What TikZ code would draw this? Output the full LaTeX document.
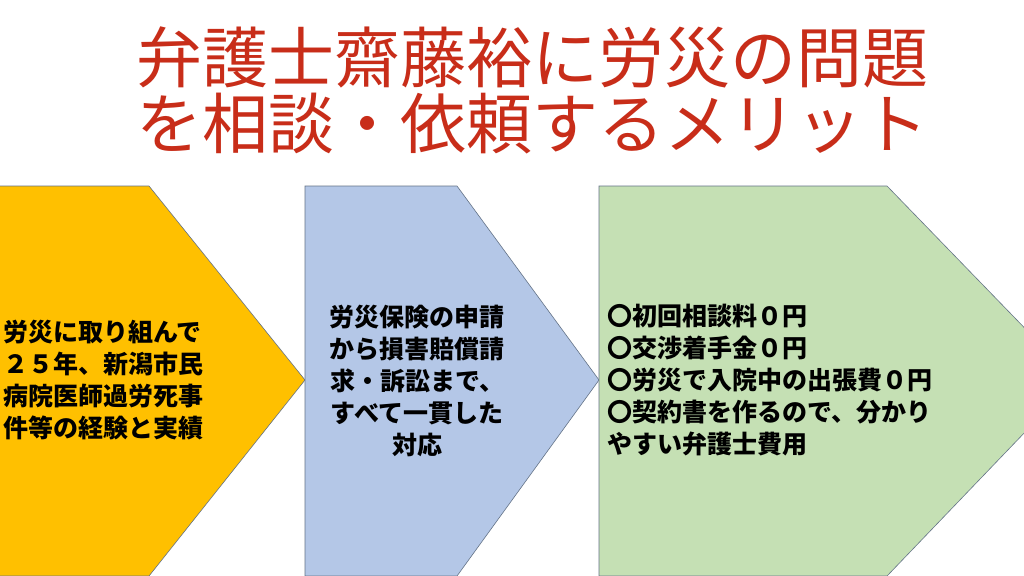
\documentclass[tikz,border=0pt]{standalone}
\usepackage{fontspec}
\setmainfont{Noto Sans CJK JP}
\definecolor{titlered}{RGB}{200,45,25}
\definecolor{orangef}{RGB}{255,192,0}
\definecolor{bluef}{RGB}{180,199,231}
\definecolor{greenf}{RGB}{197,224,180}
\definecolor{edge}{RGB}{100,115,135}
\begin{document}
\begin{tikzpicture}[x=1pt,y=-1pt,
  chev/.style={draw=edge,line width=0.6pt},
  bodytxt/.style={font=\fontsize{25}{32}\selectfont\bfseries, text=black, inner sep=0pt}]
\useasboundingbox (0,0) rectangle (1024,575);
\clip (0,0) rectangle (1024,575);
\fill[white] (0,0) rectangle (1024,575);
\node[font=\fontsize{66}{66}\selectfont, text=titlered, align=center, inner sep=0pt] (title) at (532,90) {弁護士齋藤裕に労災の問題\\を相談・依頼するメリット};
\draw[chev,fill=orangef] (-5,186) -- (149,186) -- (305,380) -- (149,576) -- (-5,576) -- cycle;
\draw[chev,fill=bluef] (305,186) -- (457,186) -- (599,380) -- (457,576) -- (305,576) -- cycle;
\draw[chev,fill=greenf] (599,186) -- (887,186) -- (1075,380) -- (887,576) -- (599,576) -- cycle;
\node[bodytxt, align=left, anchor=west] (t1) at (3,380) {労災に取り組んで\\２５年、新潟市民\\病院医師過労死事\\件等の経験と実績};
\node[bodytxt, align=center] (t2) at (417,381) {労災保険の申請\\から損害賠償請\\求・訴訟まで、\\すべて一貫した\\対応};
\node[bodytxt, align=left, anchor=west] (t3) at (607,380) {〇初回相談料０円\\〇交渉着手金０円\\〇労災で入院中の出張費０円\\〇契約書を作るので、分かり\\やすい弁護士費用};
\end{tikzpicture}
\end{document}
